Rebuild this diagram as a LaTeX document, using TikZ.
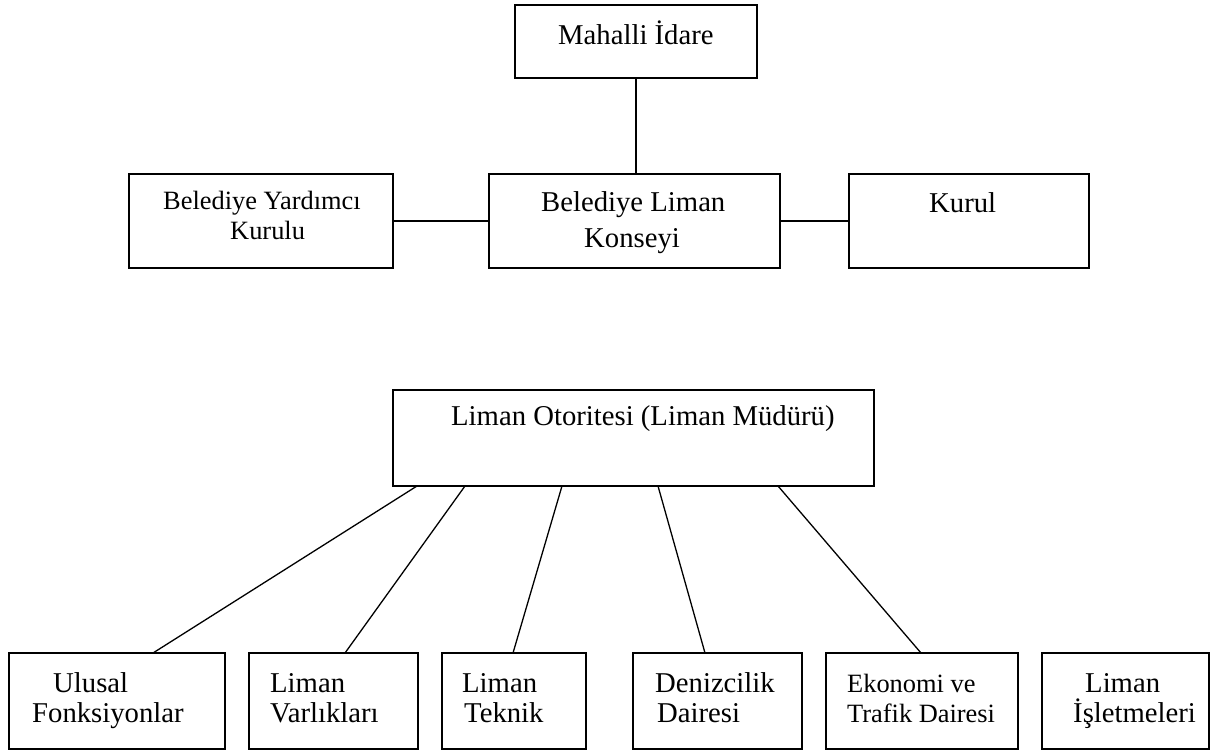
\documentclass[tikz,border=0pt]{standalone}
\usepackage{fontspec}
\setmainfont{Liberation Serif}
\begin{document}
\begin{tikzpicture}[x=1pt,y=-1pt,
  box/.style={draw,line width=1.3pt,inner sep=0pt,outer sep=0pt},
  conn/.style={line width=1.3pt},
  lbl/.style={anchor=base west,inner sep=0pt,font=\fontsize{28.7}{34}\selectfont},
  lbls/.style={anchor=base west,inner sep=0pt,font=\fontsize{26.4}{32}\selectfont}]
\useasboundingbox (0,0) rectangle (1220,751);
% top group
\node[box,minimum width=242pt,minimum height=73pt] (mah) at (636,41.5) {};
\node[box,minimum width=264pt,minimum height=94pt] (yar) at (261,221) {};
\node[box,minimum width=291pt,minimum height=94pt] (kon) at (634.5,221) {};
\node[box,minimum width=240pt,minimum height=94pt] (kur) at (969,221) {};
\node[lbl] (tmah) at (558,45) {Mahalli İdare};
\node[lbls] (tyar1) at (163,210) {Belediye Yardımcı};
\node[lbls] (tyar2) at (230,240) {Kurulu};
\node[lbl] (tkon1) at (541,212) {Belediye Liman};
\node[lbl] (tkon2) at (584,248) {Konseyi};
\node[lbl] (tkur) at (929,213) {Kurul};
\draw[conn] (mah.south) -- (mah.south |- kon.north);
\draw[conn] (yar.east) -- (kon.west);
\draw[conn] (kon.east) -- (kur.west);
% bottom group
\node[box,minimum width=481pt,minimum height=96pt] (lo) at (633.5,438) {};
\node[lbl] (tlo) at (451,425) {Liman Otoritesi (Liman Müdürü)};
\node[box,minimum width=216pt,minimum height=96pt] (b1) at (117,701) {};
\node[box,minimum width=169pt,minimum height=96pt] (b2) at (333.5,701) {};
\node[box,minimum width=144pt,minimum height=96pt] (b3) at (514,701) {};
\node[box,minimum width=169pt,minimum height=96pt] (b4) at (717.5,701) {};
\node[box,minimum width=192pt,minimum height=96pt] (b5) at (922,701) {};
\node[box,minimum width=167pt,minimum height=96pt] (b6) at (1125.5,701) {};
\node[lbl] (t1a) at (53,692) {Ulusal};
\node[lbl] (t1b) at (32,722) {Fonksiyonlar};
\node[lbl] (t2a) at (270,692) {Liman};
\node[lbl] (t2b) at (270,722) {Varlıkları};
\node[lbl] (t3a) at (462,692) {Liman};
\node[lbl] (t3b) at (464,722) {Teknik};
\node[lbl] (t4a) at (655,692) {Denizcilik};
\node[lbl] (t4b) at (657,722) {Dairesi};
\node[lbls] (t5a) at (847,692) {Ekonomi ve};
\node[lbls] (t5b) at (847,722) {Trafik Dairesi};
\node[lbl] (t6a) at (1085,692) {Liman};
\node[lbl] (t6b) at (1073,722) {İşletmeleri};
\draw[conn] ([xshift=24pt]lo.south west) -- ([xshift=144pt]b1.north west);
\draw[conn] ([xshift=72pt]lo.south west) -- ([xshift=96pt]b2.north west);
\draw[conn] ([xshift=169pt]lo.south west) -- ([xshift=71pt]b3.north west);
\draw[conn] ([xshift=265pt]lo.south west) -- ([xshift=72pt]b4.north west);
\draw[conn] ([xshift=385pt]lo.south west) -- ([xshift=95pt]b5.north west);
\end{tikzpicture}
\end{document}
